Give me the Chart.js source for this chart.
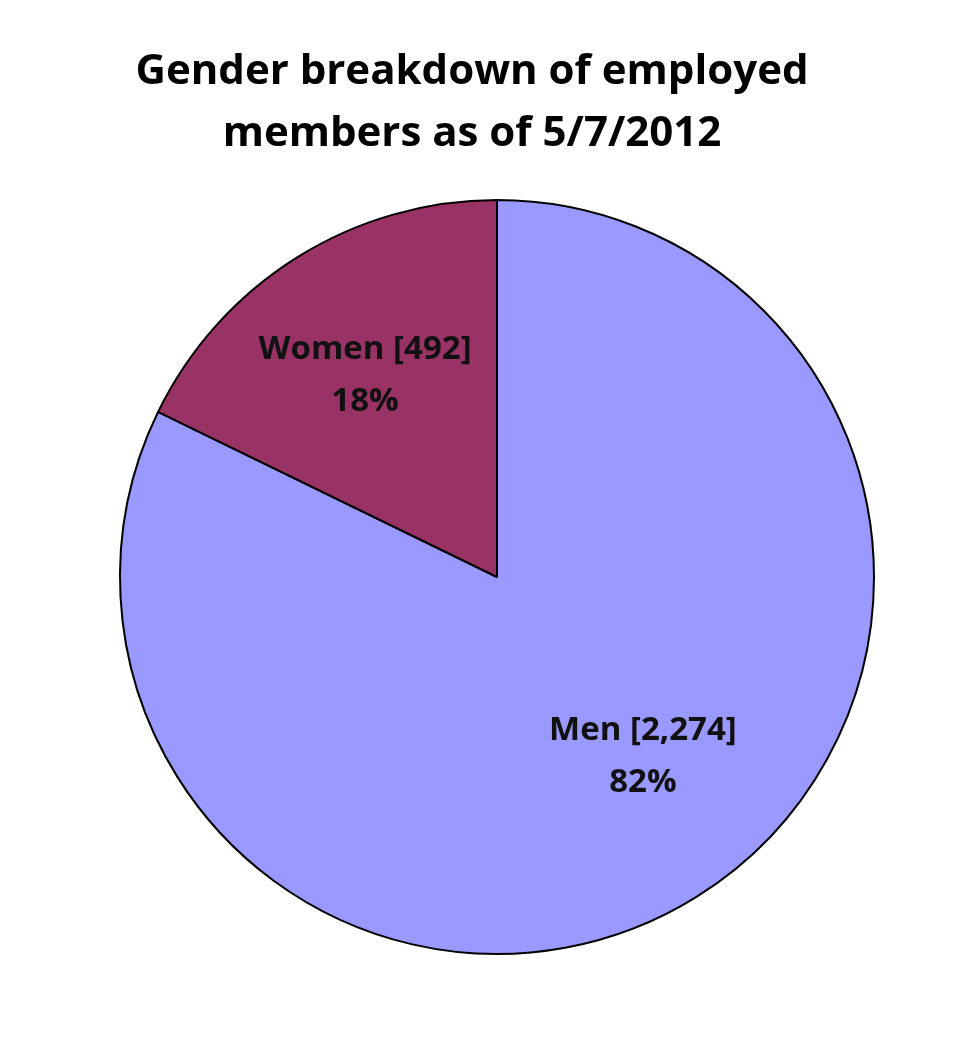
<!DOCTYPE html>
<html>
<head>
<meta charset="utf-8">
<script src="https://cdn.jsdelivr.net/npm/chart.js@4"></script>
<style>
  html, body { margin: 0; padding: 0; background: #fff; }
  #wrap { width: 978px; height: 1064px; }
</style>
</head>
<body>
<div id="wrap"><canvas id="genderChart"></canvas></div>
<script>
// Chart data
const categories = ['Men', 'Women'];
const counts = [2274, 492];
const percentLabels = ['82%', '18%'];
const countLabels = ['2,274', '492'];
const sliceColors = ['#9999FF', '#993366'];
const titleLines = ['Gender breakdown of employed', 'members as of 5/7/2012'];

const FONT = '"Open Sans", "Noto Sans", sans-serif';

// Title drawn by hand so it can sit a bit left of the pie centre, like the original
const titleText = {
  id: 'titleText',
  afterDraw(chart, args, opts) {
    const ctx = chart.ctx;
    ctx.save();
    ctx.fillStyle = '#000';
    ctx.textAlign = 'center';
    ctx.textBaseline = 'middle';
    ctx.font = 'bold 42px ' + FONT;
    titleLines.forEach((line, i) => {
      ctx.fillText(line, opts.x, opts.y + i * opts.lineGap);
    });
    ctx.restore();
  }
};

// Draw "Name [count]" and percent inside each slice
const sliceLabels = {
  id: 'sliceLabels',
  afterDatasetsDraw(chart, args, opts) {
    const ctx = chart.ctx;
    const meta = chart.getDatasetMeta(0);
    ctx.save();
    ctx.fillStyle = '#111';
    ctx.textAlign = 'center';
    ctx.textBaseline = 'middle';
    ctx.font = 'bold 33px ' + FONT;
    meta.data.forEach((arc, i) => {
      const mid = (arc.startAngle + arc.endAngle) / 2;
      const r = arc.outerRadius * opts.radius;
      const nudge = opts.nudge[i];
      const x = arc.x + Math.cos(mid) * r + nudge[0];
      const y = arc.y + Math.sin(mid) * r + nudge[1];
      ctx.fillText(`${categories[i]} [${countLabels[i]}]`, x, y - 26);
      ctx.fillText(percentLabels[i], x, y + 26);
    });
    ctx.restore();
  }
};

const ctx = document.getElementById('genderChart').getContext('2d');
new Chart(ctx, {
  type: 'pie',
  data: {
    labels: categories,
    datasets: [{
      data: counts,
      backgroundColor: sliceColors,
      borderColor: '#000',
      borderWidth: 2
    }]
  },
  options: {
    responsive: true,
    maintainAspectRatio: false,
    animation: false,
    layout: { padding: { left: 119, right: 103, top: 199, bottom: 109 } },
    plugins: {
      legend: { display: false },
      tooltip: { enabled: false },
      title: { display: false },
      titleText: { x: 472, y: 72, lineGap: 62 },
      sliceLabels: { radius: 0.63, nudge: [[20, -22], [-6, 0]] }
    }
  },
  plugins: [sliceLabels, titleText]
});
</script>
</body>
</html>
